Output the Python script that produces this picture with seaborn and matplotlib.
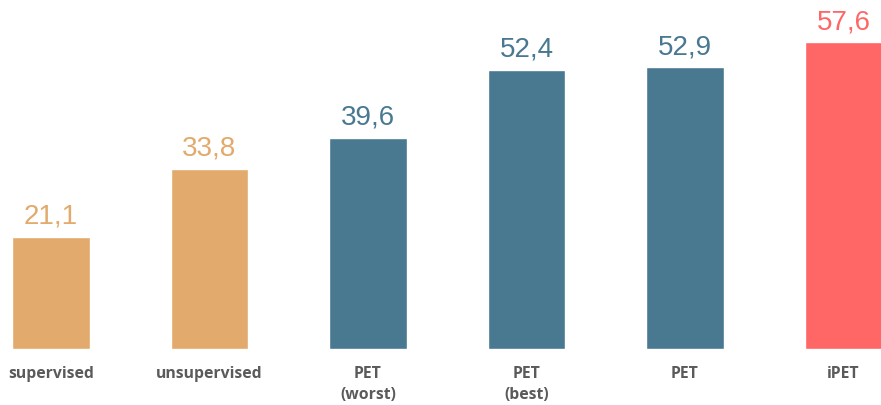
import matplotlib
matplotlib.use("Agg")
import matplotlib.pyplot as plt
import seaborn as sns
import pandas as pd
from matplotlib import font_manager as fm

categories = ["supervised", "unsupervised", "PET\n(worst)", "PET\n(best)", "PET", "iPET"]
values = [21.1, 33.8, 39.6, 52.4, 52.9, 57.6]
value_labels = ["21,1", "33,8", "39,6", "52,4", "52,9", "57,6"]
colors = ["#E2AA6C", "#E2AA6C", "#497891", "#497891", "#497891", "#FF6666"]

sns.set_theme(style="white")

names = {f.name for f in fm.fontManager.ttflist}
num_font = "Liberation Sans Narrow" if "Liberation Sans Narrow" in names else "Liberation Sans"

df = pd.DataFrame({"cat": categories, "val": values})

fig = plt.figure(figsize=(8.81, 4.05), dpi=100)
ax = fig.add_axes([0, 56 / 405, 1, 349 / 405])
sns.barplot(data=df, x="cat", y="val", hue="cat", palette=colors, width=0.49,
            legend=False, ax=ax, saturation=1)

ax.set_xlim(-0.322, 5.237)
ax.set_ylim(0, 65.48)
ax.set_xlabel("")
ax.set_ylabel("")
ax.set_yticks([])
for s in ax.spines.values():
    s.set_visible(False)

ax.set_xticks(range(len(categories)))
ax.set_xticklabels(categories, fontsize=11.3, fontweight="bold", color="#5A5A5A",
                   family=["Open Sans", "DejaVu Sans"], linespacing=1.4)
ax.tick_params(axis="x", length=0, pad=12.5)

for cont, lab, c in zip(ax.containers, value_labels, colors):
    ax.bar_label(cont, labels=[lab], padding=5, fontsize=20, color=c,
                 family=[num_font, "DejaVu Sans"])

fig.savefig("out.png", dpi=100)
